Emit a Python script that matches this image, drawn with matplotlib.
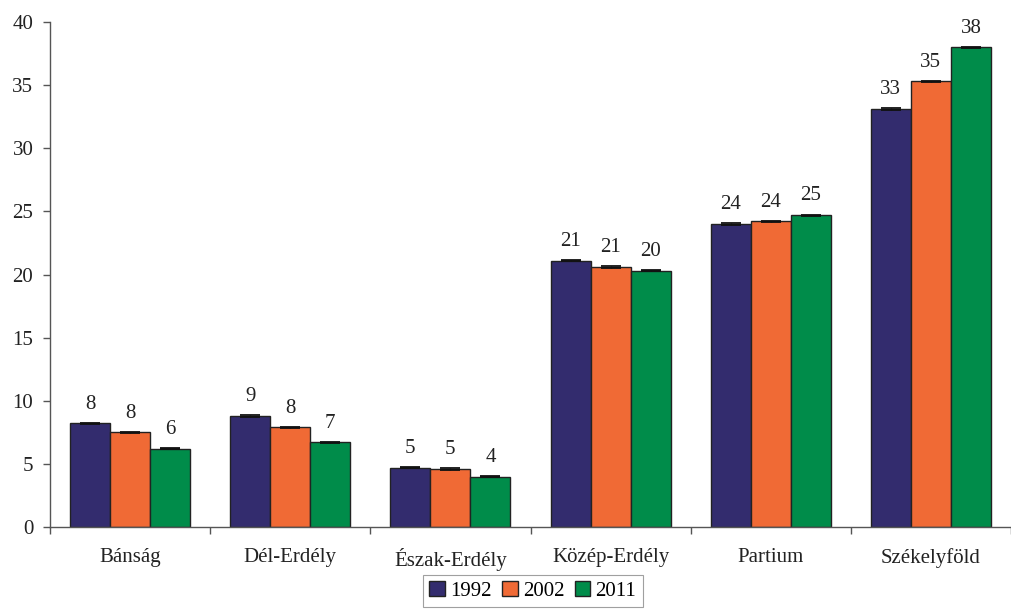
import matplotlib
matplotlib.use("Agg")
import matplotlib.pyplot as plt
import numpy as np
from matplotlib.patches import Patch

categories = ["Bánság", "Dél-Erdély", "Észak-Erdély", "Közép-Erdély", "Partium", "Székelyföld"]
years = ["1992", "2002", "2011"]
v1992 = [8.2, 8.8, 4.7, 21.1, 24.0, 33.1]
v2002 = [7.5, 7.9, 4.6, 20.6, 24.2, 35.3]
v2011 = [6.2, 6.7, 4.0, 20.3, 24.7, 38.0]
err = [0.05, 0.05, 0.05, 0.05, 0.05, 0.05]
colors = ["#332C6E", "#F06A35", "#008C4A"]

plt.rcParams['font.family'] = ['Liberation Serif', 'DejaVu Serif']

fig = plt.figure(figsize=(10.11, 6.09), dpi=100)
ax = fig.add_axes([50/1011, (609-527)/609, (1011-50)/1011, (527-22)/609])

x = np.arange(len(categories))
w = 0.25
series = [v1992, v2002, v2011]
for i, (vals, c) in enumerate(zip(series, colors)):
    pos = x + (i - 1) * w
    ax.bar(pos, vals, w, color=c, edgecolor="#222222", linewidth=1.0, zorder=2)
    ax.errorbar(pos, vals, yerr=err, fmt="none", ecolor="#111111", capsize=7,
                elinewidth=1.0, capthick=1.3, zorder=3)
    for p, v in zip(pos, vals):
        ax.annotate(f"{v:.0f}", (p, v), xytext=(0, 7), textcoords="offset points",
                    ha="center", va="bottom", fontsize=15, color="#222222")

ax.set_xlim(-0.5, len(categories) - 0.5)
ax.set_ylim(0, 40)
ax.set_yticks(np.arange(0, 41, 5))
ax.tick_params(axis="y", labelsize=15, length=5, width=1, color="#555555", pad=7, labelcolor="#222222")

ax.set_xticks(np.arange(-0.5, len(categories), 1.0))
ax.set_xticklabels([])
ax.tick_params(axis="x", which="major", length=5, width=1, color="#555555")
ax.set_xticks(x, minor=True)
ax.set_xticklabels(categories, minor=True)
ax.tick_params(axis="x", which="minor", length=0, labelsize=15, pad=15, labelcolor="#222222")

for s in ["top", "right"]:
    ax.spines[s].set_visible(False)
for s in ["left", "bottom"]:
    ax.spines[s].set_color("#555555")
    ax.spines[s].set_linewidth(1.0)

handles = [Patch(facecolor=c, edgecolor="#222222", label=y) for c, y in zip(colors, years)]
leg = fig.legend(handles=handles, loc="lower center", bbox_to_anchor=(0.527, -0.014), ncol=3,
                 fontsize=15, frameon=True, fancybox=False, handlelength=0.75, handleheight=0.75,
                 handletextpad=0.25, columnspacing=0.5, borderpad=0.3, edgecolor="#888888")
leg.get_frame().set_linewidth(0.8)

fig.savefig("out.png", dpi=100)
